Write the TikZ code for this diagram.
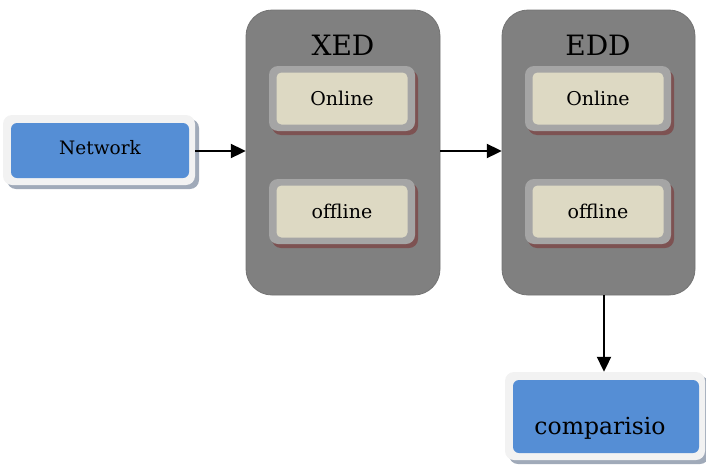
\documentclass[tikz,border=0pt]{standalone}
\usepackage{fontspec}
\setmainfont{DejaVu Serif}
\usetikzlibrary{arrows.meta}
\begin{document}
\begin{tikzpicture}[x=1pt,y=-1pt,
  flow/.style={-{Triangle[length=15pt,width=14pt]}, line width=2pt, black},
  panel/.style={rounded corners=26pt, fill=black!50, draw=black!55, line width=0.8pt},
]
\useasboundingbox (0,0) rectangle (706,466);

% blue box with light frame and soft shadow
\newcommand{\bluebox}[5]{% x1,y1,x2,y2,name
  \fill[rounded corners=9pt, fill={rgb,255:red,160;green,170;blue,185}] (#1+4,#2+4) rectangle (#3+4,#4+4);
  \node[rounded corners=9pt, fill={rgb,255:red,242;green,242;blue,242},
        minimum width={(#3-#1)*1pt}, minimum height={(#4-#2)*1pt}, inner sep=0pt]
        (#5) at ({(#1+#3)/2},{(#2+#4)/2}) {};
  \fill[rounded corners=6pt, fill={rgb,255:red,85;green,142;blue,213}] (#1+8,#2+8) rectangle (#3-6,#4-7);
}
% cream box with grey frame and reddish shadow
\newcommand{\creambox}[6]{%
  \fill[rounded corners=9pt, fill={rgb,255:red,125;green,82;blue,82}] (#1+3,#2+4) rectangle (#3+3,#4+4);
  \fill[rounded corners=9pt, fill={rgb,255:red,165;green,165;blue,165}] (#1,#2) rectangle (#3,#4);
  \node[rounded corners=5pt, fill={rgb,255:red,221;green,217;blue,195},
        minimum width={(#3-#1-15)*1pt}, minimum height={(#4-#2-13)*1pt}, inner sep=0pt,
        font=\fontsize{19}{22}\selectfont]
        (#5) at ({(#1+#3)/2},{(#2+#4)/2}) {#6};
}

% input
\bluebox{3}{115}{195}{185}{net}
\node[font=\fontsize{18.5}{22}\selectfont] at (100,148) {Network};

% XED panel
\draw[panel] (246,10) rectangle (440,295);
\node (xed) at (343,152) [minimum width=194pt, minimum height=285pt] {};
\node[font=\fontsize{28}{32}\selectfont] at (343,45) {XED};
\creambox{269}{66}{415}{131}{xon}{Online}
\creambox{269}{179}{415}{244}{xoff}{offline}

% EDD panel
\draw[panel] (502,10) rectangle (695,295);
\node (edd) at (598.5,152) [minimum width=193pt, minimum height=285pt] {};
\node[font=\fontsize{28}{32}\selectfont] at (598,45) {EDD};
\creambox{525}{66}{671}{131}{eon}{Online}
\creambox{525}{179}{671}{244}{eoff}{offline}

% output
\bluebox{505}{372}{705}{460}{cmp}
\node[font=\fontsize{23.5}{28}\selectfont] at (600,428) {comparisio};

% connectors
\draw[flow] (net.east |- 0,151) -- (xed.west |- 0,151);
\draw[flow] (xed.east |- 0,151) -- (edd.west |- 0,151);
\draw[flow] (604,295) -- (cmp.north -| 604,0);
\end{tikzpicture}
\end{document}
